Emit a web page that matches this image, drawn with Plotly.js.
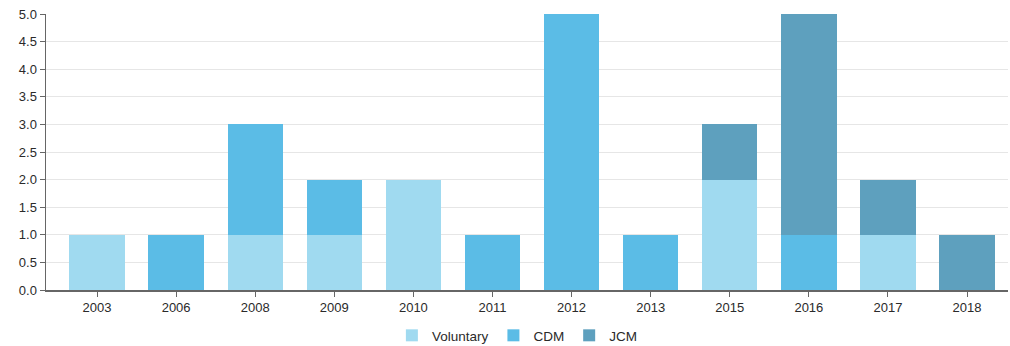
<!DOCTYPE html>
<html>
<head>
<meta charset="utf-8">
<script src="https://cdn.plot.ly/plotly-3.0.1.min.js"></script>
<style>
  html, body { margin: 0; padding: 0; background: #fff; }
  #chart { width: 1010px; height: 346px; }
</style>
</head>
<body>
<div id="chart"></div>
<script>
// Project counts per year, stacked by credit scheme
const years = ['2003', '2006', '2008', '2009', '2010', '2011', '2012', '2013', '2015', '2016', '2017', '2018'];
const voluntary = [1, 0, 1, 1, 2, 0, 0, 0, 2, 0, 1, 0];
const cdm       = [0, 1, 2, 1, 0, 1, 5, 1, 0, 1, 0, 0];
const jcm       = [0, 0, 0, 0, 0, 0, 0, 0, 1, 4, 1, 1];
const yTicks = [0, 0.5, 1, 1.5, 2, 2.5, 3, 3.5, 4, 4.5, 5];

const series = [
  { name: 'Voluntary', values: voluntary, color: '#a0daf0' },
  { name: 'CDM',       values: cdm,       color: '#5bbce6' },
  { name: 'JCM',       values: jcm,       color: '#5ea0be' }
];

const traces = series.map(s => ({
  type: 'bar',
  name: s.name,
  x: years,
  y: s.values,
  width: 0.7,
  marker: { color: s.color, line: { width: 0 } },
  hoverinfo: 'x+y+name'
}));

const layout = {
  width: 1010,
  height: 346,
  barmode: 'stack',
  paper_bgcolor: '#fff',
  plot_bgcolor: '#fff',
  font: { family: 'Liberation Sans, Arial, sans-serif', size: 13, color: '#2a2a2a' },
  margin: { l: 46, r: 2, t: 14, b: 56, autoexpand: false },
  showlegend: true,
  legend: {
    orientation: 'h',
    traceorder: 'normal',
    x: 0.49, xanchor: 'center',
    y: -0.165, yanchor: 'middle',
    font: { size: 13.5, color: '#2a2a2a' },
    itemclick: false
  },
  xaxis: {
    type: 'category',
    range: [-0.645, 11.518],
    showline: true, linecolor: '#666', linewidth: 1.5,
    ticks: 'outside', ticklen: 5, tickcolor: '#666',
    showgrid: false,
    tickfont: { size: 13, color: '#2a2a2a' }
  },
  yaxis: {
    range: [0, 5],
    tickvals: yTicks,
    ticktext: yTicks.map(v => v.toFixed(1)),
    showline: true, linecolor: '#666', linewidth: 1.5,
    ticks: 'outside', ticklen: 5, tickcolor: '#666',
    gridcolor: '#e6e6e6', gridwidth: 1,
    zeroline: false,
    tickfont: { size: 13, color: '#2a2a2a' }
  }
};

Plotly.newPlot('chart', traces, layout, { displayModeBar: false, staticPlot: true });
</script>
</body>
</html>
